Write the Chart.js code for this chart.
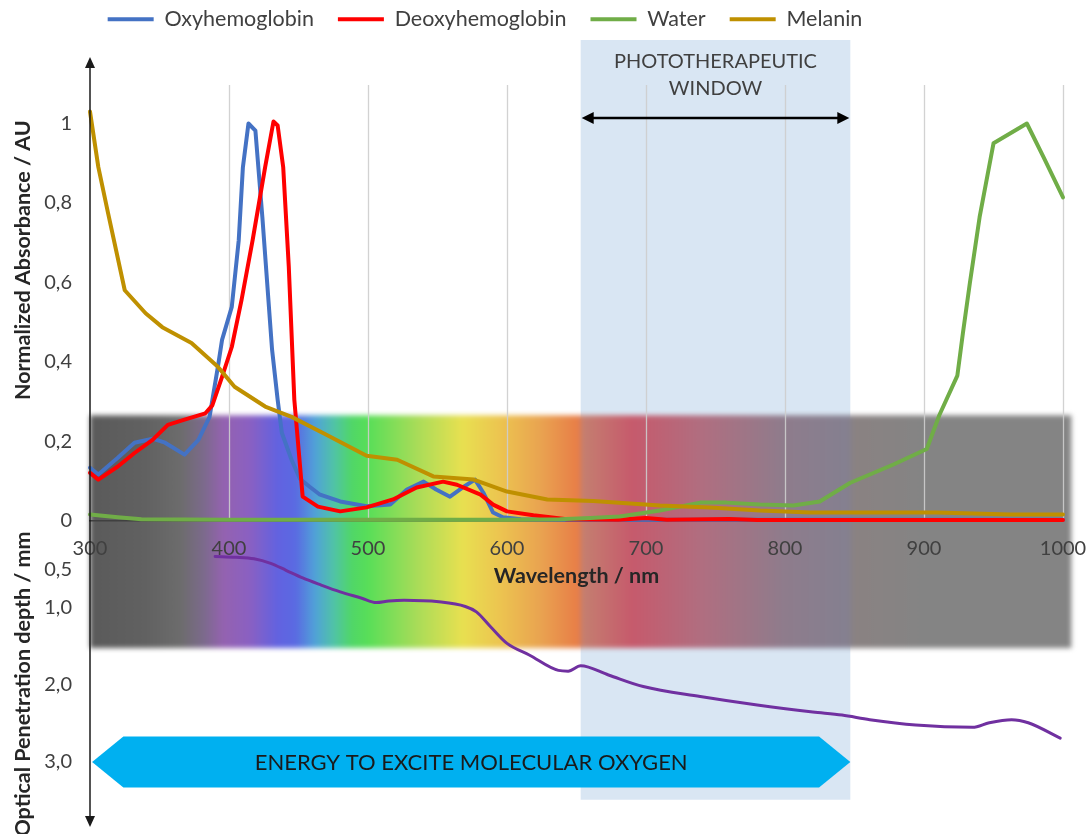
<!DOCTYPE html>
<html><head><meta charset="utf-8">
<script src="https://cdn.jsdelivr.net/npm/chart.js@4/dist/chart.umd.min.js"></script>
<style>html,body{margin:0;padding:0;background:#fff;overflow:hidden}#wrap{width:1089px;height:834px;position:relative}</style>
</head><body><div id="wrap"><canvas id="c"></canvas></div>
<script>
// ---------- data ----------
const seriesNames = ['Oxyhemoglobin','Deoxyhemoglobin','Water','Melanin'];
const wavelengthTicks = [300,400,500,600,700,800,900,1000];
const absorbanceTicks = [0,0.2,0.4,0.6,0.8,1];
const depthTicks = [0.5,1,2,3];

const oxyNm  = [300,306,320,332,345,354,368,378,386,392,395,402,407,410,414,419,424,431,435,438,445,451,458,465,480,499,516,528,540,549,559,568,577,583,590,597,610,650,700,800,900,1000];
const oxyAbs = [0.133,0.116,0.158,0.196,0.206,0.196,0.166,0.203,0.261,0.387,0.455,0.538,0.706,0.89,1.0,0.982,0.764,0.43,0.304,0.221,0.153,0.105,0.085,0.066,0.048,0.036,0.04,0.078,0.098,0.078,0.06,0.083,0.103,0.07,0.02,0.008,0.003,0.002,0.002,0.002,0.002,0.002];

const deoxyNm  = [300,306,320,332,345,356,368,383,388,395,402,409,417,426,432,435,439,443,447,453,464,480,499,518,535,554,564,581,590,600,619,643,680,700,715,760,780,1000];
const deoxyAbs = [0.12,0.103,0.136,0.17,0.203,0.241,0.254,0.27,0.29,0.362,0.437,0.555,0.706,0.89,1.005,0.995,0.89,0.64,0.304,0.06,0.035,0.023,0.033,0.053,0.083,0.098,0.09,0.065,0.04,0.023,0.013,0.003,0.002,0.006,0.002,0.004,0.001,0.001];

const waterNm  = [300,320,337,400,500,600,638,660,681,710,739,758,782,806,825,847,878,902,911,924,928,933,940,950,974,986,1000];
const waterAbs = [0.015,0.008,0.003,0.002,0.002,0.002,0.003,0.006,0.01,0.025,0.045,0.045,0.04,0.038,0.048,0.095,0.141,0.18,0.265,0.365,0.472,0.598,0.764,0.95,1.0,0.915,0.814];

const melaninNm  = [300,306,313,325,340,352,373,392,404,426,445,469,499,521,547,576,600,629,662,710,746,782,818,909,962,1000];
const melaninAbs = [1.03,0.89,0.774,0.58,0.522,0.487,0.447,0.387,0.337,0.287,0.261,0.218,0.163,0.153,0.111,0.103,0.073,0.053,0.049,0.038,0.033,0.025,0.02,0.02,0.015,0.015];

const depthNm = [390,405,418,430,441,453,466,480,495,506,515,526,551,570,578,588,600,616,637,644,653,673,698,739,780,820,841,861,894,935,947,963,975,998];
const depthMm = [0.33,0.34,0.36,0.42,0.51,0.61,0.70,0.79,0.87,0.93,0.91,0.90,0.92,0.98,1.05,1.24,1.46,1.61,1.81,1.82,1.75,1.87,2.02,2.15,2.26,2.35,2.39,2.45,2.52,2.55,2.49,2.45,2.49,2.69];

const spectrumNm     = [300,340,365,382,396,415,435,448,462,476,488,500,535,568,595,625,648,652.5,653.5,690,740,800,846,849,900,1006];
const spectrumColors = ['#5a5a5a','#616161','#6c6c6c','#7c6a8c','#9462b0','#8a60c2','#6262e0','#5a6ae2','#50a2d8','#50c4a4','#50d668','#58de58','#a8dc58','#e8e050','#ecc450','#e9a250','#e88248','#e87c48','#c48070','#c65a6c','#b06e80','#8e7c8c','#848090','#8a8282','#848484','#848484'];

const windowNm = [653, 847];
const bannerNm = [301.5, 847];
const bannerText = 'ENERGY TO EXCITE MOLECULAR OXYGEN';
const windowText = ['PHOTOTHERAPEUTIC', 'WINDOW'];

// ---------- chart ----------
const FONT = 'Lato';
Chart.defaults.font.family = FONT;
const mk = (xs, ys) => xs.map((v, i) => ({x: v, y: ys[i]}));
const fmtComma = v => (Number.isInteger(v) ? String(v) : v.toFixed(1).replace('.', ','));
const fmtDepth = v => v.toFixed(1).replace('.', ',');

const decor = {
  id: 'decor',
  afterLayout(chart) {
    const l = chart.legend;
    const d = 485 - (l.left + l.right) / 2;
    l.left += d; l.right += d;
  },
  beforeDraw(chart) {
    const {ctx, scales: {x, y, y2}} = chart;
    ctx.save();
    // phototherapeutic window
    const wx0 = x.getPixelForValue(windowNm[0]), wx1 = x.getPixelForValue(windowNm[1]);
    const wy0 = y.getPixelForValue(1.2103), wy1 = y2.getPixelForValue(3.49);
    ctx.fillStyle = '#d9e6f3';
    ctx.fillRect(wx0, wy0, wx1 - wx0, wy1 - wy0);
    // spectrum band
    const b0 = spectrumNm[0], b1 = spectrumNm[spectrumNm.length - 1];
    const bx0 = x.getPixelForValue(b0), bx1 = x.getPixelForValue(b1);
    const by0 = y.getPixelForValue(0.265), by1 = y2.getPixelForValue(1.52);
    const g = ctx.createLinearGradient(bx0, 0, bx1, 0);
    spectrumNm.forEach((nm, i) => g.addColorStop((nm - b0) / (b1 - b0), spectrumColors[i]));
    ctx.filter = 'blur(2.5px)';
    ctx.fillStyle = g;
    ctx.fillRect(bx0, by0, bx1 - bx0, by1 - by0);
    ctx.filter = 'none';
    // vertical gridlines
    ctx.strokeStyle = 'rgba(205,205,205,0.9)';
    ctx.lineWidth = 1.3;
    const gt = y.getPixelForValue(1.097), gb = y.getPixelForValue(0);
    wavelengthTicks.slice(1).forEach(nm => {
      const px = Math.round(x.getPixelForValue(nm)) + 0.5;
      ctx.beginPath(); ctx.moveTo(px, gt); ctx.lineTo(px, gb); ctx.stroke();
    });
    ctx.restore();
  },
  afterDraw(chart) {
    const {ctx, scales: {x, y, y2}} = chart;
    ctx.save();
    // vertical double axis with arrows
    const ax = x.getPixelForValue(300);
    const at = y.getPixelForValue(1.1675), ab = y2.getPixelForValue(3.844);
    ctx.strokeStyle = '#1a1a1a'; ctx.fillStyle = '#1a1a1a'; ctx.lineWidth = 1.5;
    ctx.beginPath(); ctx.moveTo(ax, at + 8); ctx.lineTo(ax, ab - 8); ctx.stroke();
    ctx.beginPath(); ctx.moveTo(ax, at); ctx.lineTo(ax - 5, at + 11); ctx.lineTo(ax + 5, at + 11); ctx.closePath(); ctx.fill();
    ctx.beginPath(); ctx.moveTo(ax, ab); ctx.lineTo(ax - 5, ab - 11); ctx.lineTo(ax + 5, ab - 11); ctx.closePath(); ctx.fill();
    // window label + double arrow
    const wx0 = x.getPixelForValue(windowNm[0]), wx1 = x.getPixelForValue(windowNm[1]);
    const wc = (wx0 + wx1) / 2;
    ctx.fillStyle = '#404040';
    ctx.font = '20px ' + FONT;
    ctx.textAlign = 'center'; ctx.textBaseline = 'middle';
    ctx.fillText(windowText[0], wc, y.getPixelForValue(1.155));
    ctx.fillText(windowText[1], wc, y.getPixelForValue(1.089));
    const ay = y.getPixelForValue(1.014);
    ctx.strokeStyle = '#000'; ctx.fillStyle = '#000'; ctx.lineWidth = 2.5;
    ctx.beginPath(); ctx.moveTo(wx0 + 8, ay); ctx.lineTo(wx1 - 8, ay); ctx.stroke();
    ctx.beginPath(); ctx.moveTo(wx0 + 1, ay); ctx.lineTo(wx0 + 13, ay - 6); ctx.lineTo(wx0 + 13, ay + 6); ctx.closePath(); ctx.fill();
    ctx.beginPath(); ctx.moveTo(wx1 - 1, ay); ctx.lineTo(wx1 - 13, ay - 6); ctx.lineTo(wx1 - 13, ay + 6); ctx.closePath(); ctx.fill();
    // banner
    const bx0 = x.getPixelForValue(bannerNm[0]), bx1 = x.getPixelForValue(bannerNm[1]);
    const inset = x.getPixelForValue(300 + 22.5) - x.getPixelForValue(300);
    const bt = y2.getPixelForValue(2.67), bm = y2.getPixelForValue(3.0), bb = y2.getPixelForValue(3.33);
    ctx.fillStyle = '#00b0f0';
    ctx.beginPath();
    ctx.moveTo(bx0, bm); ctx.lineTo(bx0 + inset, bt); ctx.lineTo(bx1 - inset, bt);
    ctx.lineTo(bx1, bm); ctx.lineTo(bx1 - inset, bb); ctx.lineTo(bx0 + inset, bb); ctx.closePath(); ctx.fill();
    ctx.fillStyle = '#1a1a1a';
    ctx.font = '22px ' + FONT;
    ctx.fillText(bannerText, (bx0 + bx1) / 2, bm + 1);
    ctx.restore();
  }
};

const tickFont = {family: FONT, size: 20};
const legendFont = {family: FONT, size: 21.5};
const titleFont = {family: FONT, size: 21.5, weight: 'bold'};
const line = (label, xs, ys, color, order, axis, extra) => Object.assign({
  label, data: mk(xs, ys), borderColor: color, backgroundColor: color, borderWidth: 4,
  yAxisID: axis, order, clip: false
}, extra || {});

const chart = new Chart(document.getElementById('c'), {
  type: 'line',
  data: {
    datasets: [
      line(seriesNames[0], oxyNm, oxyAbs, '#4472C4', 4, 'y'),
      line(seriesNames[1], deoxyNm, deoxyAbs, '#FF0000', 3, 'y'),
      line(seriesNames[2], waterNm, waterAbs, '#70AD47', 2, 'y'),
      line(seriesNames[3], melaninNm, melaninAbs, '#BF9000', 1, 'y'),
      line('Optical penetration depth', depthNm, depthMm, '#7030A0', 5, 'y2', {borderWidth: 3, cubicInterpolationMode: 'monotone'})
    ]
  },
  options: {
    responsive: true, maintainAspectRatio: false, animation: false, devicePixelRatio: 1,
    events: [],
    elements: {point: {radius: 0}, line: {tension: 0, borderJoinStyle: 'round', borderCapStyle: 'round'}},
    layout: {padding: {top: -15.5, right: 26, left: 0, bottom: 0}},
    plugins: {
      tooltip: {enabled: false},
      legend: {
        display: true, position: 'top', align: 'center',
        labels: {
          boxWidth: 46, boxHeight: 4, padding: 24, color: '#404040', font: legendFont,
          filter: it => it.datasetIndex < 4,
          sort: (a, b) => a.datasetIndex - b.datasetIndex,
          generateLabels: ch => Chart.defaults.plugins.legend.labels.generateLabels(ch).map(it => Object.assign(it, {lineWidth: 0, fillStyle: it.strokeStyle}))
        }
      }
    },
    scales: {
      x: {
        type: 'linear', min: 300, max: 1000, position: {y: 0},
        grid: {display: false, drawTicks: false},
        border: {display: true, color: '#404040', width: 1.5},
        afterBuildTicks: s => { s.ticks = wavelengthTicks.map(v => ({value: v})); },
        afterFit: s => { s.paddingLeft = 0; s.paddingRight = 0; },
        ticks: {padding: 16.5, autoSkip: false, maxRotation: 0, color: '#404040', font: tickFont, callback: v => String(v)},
        title: {display: true, text: 'Wavelength / nm', color: '#262626', font: titleFont, padding: {top: -14, bottom: 0}}
      },
      y: {
        type: 'linear', position: 'left', stack: 'left', stackWeight: 360, weight: 3,
        min: 0.3035, max: 1.2103,
        grid: {display: false, drawTicks: false}, border: {display: false},
        afterBuildTicks: s => { s.ticks = absorbanceTicks.map(v => ({value: v})); },
        afterFit: s => { s.width = 90; s.paddingTop = 0; s.paddingBottom = 0; },
        ticks: {padding: 18, autoSkip: false, color: '#404040', font: tickFont, callback: v => fmtComma(v)},
        title: {display: true, text: 'Normalized Absorbance / AU', align: 'start', color: '#262626', font: titleFont, padding: {top: 10, bottom: 0}}
      },
      gap: {
        type: 'linear', position: 'left', stack: 'left', stackWeight: 134, weight: 2, min: 0, max: 1,
        grid: {display: false, drawTicks: false}, border: {display: false}, ticks: {display: false},
        afterFit: s => { s.width = 90; s.paddingTop = 0; s.paddingBottom = 0; }
      },
      y2: {
        type: 'linear', position: 'left', stack: 'left', stackWeight: 300, weight: 1, reverse: true,
        min: 0.039, max: 3.935,
        grid: {display: false, drawTicks: false}, border: {display: false},
        afterBuildTicks: s => { s.ticks = depthTicks.map(v => ({value: v})); },
        afterFit: s => { s.width = 90; s.paddingTop = 0; s.paddingBottom = 0; },
        ticks: {padding: 18, autoSkip: false, color: '#404040', font: tickFont, callback: v => fmtDepth(v)},
        title: {display: true, text: 'Optical Penetration depth / mm', align: 'center', color: '#262626', font: titleFont, padding: {top: 10, bottom: 0}}
      }
    }
  },
  plugins: [decor]
});
</script></body></html>
